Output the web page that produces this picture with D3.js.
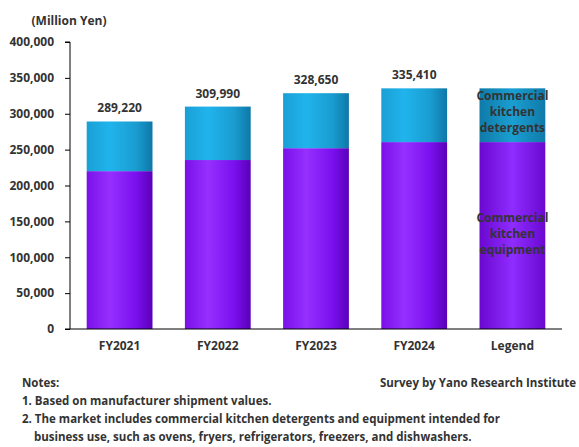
<!DOCTYPE html>
<html><head><meta charset="utf-8">
<script src="https://cdn.jsdelivr.net/npm/d3@7"></script>
<style>body{margin:0;background:#fff}text{font-family:"Open Sans",sans-serif;font-weight:bold;fill:#333}</style>
</head><body><div id="chart"></div>
<script>
var categories = ["FY2021", "FY2022", "FY2023", "FY2024", "Legend"];
var equipment = [220000, 235500, 252000, 260500, 260500];
var detergents = [69220, 74490, 76650, 74910, 74910];
var totals = ["289,220", "309,990", "328,650", "335,410", ""];
var yTicks = [0, 50000, 100000, 150000, 200000, 250000, 300000, 350000, 400000];

var svg = d3.select("#chart").append("svg").attr("width", 579).attr("height", 447);
var defs = svg.append("defs");
function grad(id, stops) {
  var g = defs.append("linearGradient").attr("id", id).attr("x1", "0").attr("x2", "1");
  stops.forEach(s => g.append("stop").attr("offset", s[0]).attr("stop-color", s[1]));
}
grad("gp", [[0, "#7a10e8"], [0.35, "#9530ff"], [0.75, "#7a10ee"], [1, "#5a00b8"]]);
grad("gb", [[0, "#1a9fd6"], [0.35, "#20b4ec"], [0.75, "#1a9cd0"], [1, "#0e78a8"]]);
grad("gbl", [[0, "#0f7aa8"], [0.5, "#1a9fd2"], [1, "#0f7aa8"]]);
grad("gpl", [[0, "#6a08d0"], [0.5, "#8f2cff"], [1, "#6a08d0"]]);

var x = d3.scaleBand().domain(categories).range([70, 562]).paddingInner(0.33).paddingOuter(0.17);
var y = d3.scaleLinear().domain([0, 400000]).range([329, 42]);

var g = svg.append("g");
categories.forEach(function (c, i) {
  var leg = c === "Legend";
  g.append("rect").attr("x", x(c)).attr("width", x.bandwidth())
    .attr("y", y(equipment[i])).attr("height", y(0) - y(equipment[i]))
    .attr("fill", leg ? "url(#gpl)" : "url(#gp)");
  g.append("rect").attr("x", x(c)).attr("width", x.bandwidth())
    .attr("y", y(equipment[i] + detergents[i])).attr("height", y(0) - y(detergents[i]))
    .attr("fill", leg ? "url(#gbl)" : "url(#gb)");
  if (totals[i]) g.append("text").attr("x", x(c) + x.bandwidth() / 2)
    .attr("y", y(equipment[i] + detergents[i]) - 9).attr("text-anchor", "middle")
    .attr("font-size", 12).text(totals[i]);
});

// legend labels inside last bar
var lx = x("Legend") + x.bandwidth() / 2;
[["Commercial", "kitchen", "detergents", 100], ["Commercial", "kitchen", "equipment", 222]].forEach(function (l) {
  var t = svg.append("text").attr("text-anchor", "middle").attr("font-size", 12).attr("fill", "#444");
  for (var k = 0; k < 3; k++) t.append("tspan").attr("x", lx).attr("y", l[3] + k * 16).text(l[k]);
});

var yAxis = d3.axisLeft(y).tickValues(yTicks).tickSize(5).tickFormat(d3.format(","));
var ya = svg.append("g").attr("transform", "translate(70,0)").call(yAxis);
ya.selectAll("text").attr("font-size", 12).attr("dx", -8).style("fill", "#333");
ya.select(".domain").attr("d", "M-5,42H0V329H-5");

var xAxis = d3.axisBottom(x).tickSize(0);
var xa = svg.append("g").attr("transform", "translate(0,329)").call(xAxis);
xa.select(".domain").attr("d", "M70,0H562");
xa.selectAll("text").attr("font-size", 12).attr("dy", 18).style("fill", "#333");

svg.append("text").attr("x", 69).attr("y", 25).attr("text-anchor", "middle").attr("font-size", 12).text("(Million Yen)");

var notes = ["Notes:", "1. Based on manufacturer shipment values.",
  "2. The market includes commercial kitchen detergents and equipment intended for",
  "    business use, such as ovens, fryers, refrigerators, freezers, and dishwashers."];
notes.forEach(function (n, i) {
  svg.append("text").attr("x", 22).attr("y", 387 + i * 18).attr("font-size", 11.5)
    .attr("xml:space", "preserve").style("white-space", "pre").text(n);
});
svg.append("text").attr("x", 576).attr("y", 387).attr("text-anchor", "end").attr("font-size", 11.5)
  .text("Survey by Yano Research Institute");
</script></body></html>
